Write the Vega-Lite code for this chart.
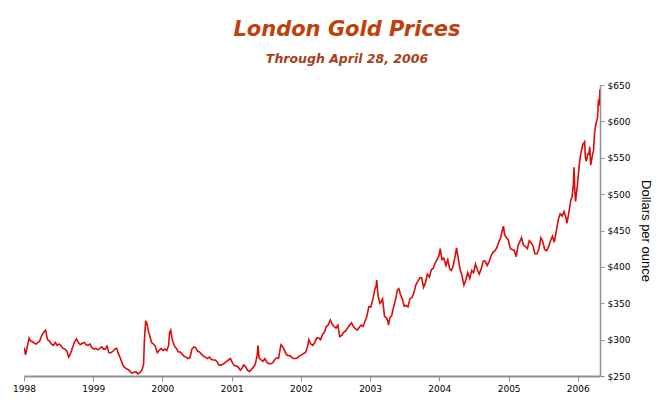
{
  "$schema": "https://vega.github.io/schema/vega-lite/v6.json",
  "autosize": {"type": "none"},
  "width": 576,
  "height": 291,
  "padding": {"left": 24, "top": 85, "right": 72, "bottom": 41},
  "background": "white",
  "title": {
    "text": "London Gold Prices",
    "subtitle": "Through April 28, 2006",
    "anchor": "middle",
    "dx": 35,
    "offset": 16,
    "font": "DejaVu Sans",
    "fontSize": 21,
    "fontWeight": "bold",
    "fontStyle": "italic",
    "color": "#c0400c",
    "subtitleFont": "DejaVu Sans",
    "subtitleFontSize": 12.5,
    "subtitleFontWeight": "bold",
    "subtitleFontStyle": "italic",
    "subtitleColor": "#a8401a",
    "subtitlePadding": 13
  },
  "config": {"view": {"stroke": null}},
  "data": {
    "values": [
      {"date": "1998-01-02", "price": 289}, {"date": "1998-01-09", "price": 279}, {"date": "1998-01-20", "price": 292}, {"date": "1998-01-28", "price": 302},
      {"date": "1998-02-05", "price": 298}, {"date": "1998-02-15", "price": 297}, {"date": "1998-02-25", "price": 295},
      {"date": "1998-03-05", "price": 294}, {"date": "1998-03-15", "price": 296}, {"date": "1998-03-25", "price": 298},
      {"date": "1998-04-05", "price": 306}, {"date": "1998-04-15", "price": 310}, {"date": "1998-04-25", "price": 313},
      {"date": "1998-05-05", "price": 300}, {"date": "1998-05-15", "price": 298}, {"date": "1998-05-25", "price": 294},
      {"date": "1998-06-05", "price": 292}, {"date": "1998-06-15", "price": 296}, {"date": "1998-06-25", "price": 292},
      {"date": "1998-07-05", "price": 294}, {"date": "1998-07-15", "price": 292}, {"date": "1998-07-25", "price": 288},
      {"date": "1998-08-05", "price": 287}, {"date": "1998-08-15", "price": 284}, {"date": "1998-08-25", "price": 276},
      {"date": "1998-09-05", "price": 282}, {"date": "1998-09-15", "price": 290}, {"date": "1998-09-25", "price": 297},
      {"date": "1998-10-05", "price": 301}, {"date": "1998-10-15", "price": 296}, {"date": "1998-10-25", "price": 293},
      {"date": "1998-11-05", "price": 295}, {"date": "1998-11-15", "price": 296}, {"date": "1998-11-25", "price": 293},
      {"date": "1998-12-05", "price": 292}, {"date": "1998-12-15", "price": 294}, {"date": "1998-12-25", "price": 289},
      {"date": "1999-01-05", "price": 287}, {"date": "1999-01-15", "price": 288}, {"date": "1999-01-25", "price": 286},
      {"date": "1999-02-05", "price": 288}, {"date": "1999-02-15", "price": 290}, {"date": "1999-02-25", "price": 287},
      {"date": "1999-03-05", "price": 287}, {"date": "1999-03-15", "price": 291}, {"date": "1999-03-25", "price": 282},
      {"date": "1999-04-05", "price": 282}, {"date": "1999-04-15", "price": 284}, {"date": "1999-04-25", "price": 287},
      {"date": "1999-05-05", "price": 288}, {"date": "1999-05-15", "price": 280}, {"date": "1999-05-25", "price": 274},
      {"date": "1999-06-05", "price": 266}, {"date": "1999-06-15", "price": 262}, {"date": "1999-06-25", "price": 260},
      {"date": "1999-07-05", "price": 259}, {"date": "1999-07-15", "price": 256}, {"date": "1999-07-25", "price": 254},
      {"date": "1999-08-05", "price": 255}, {"date": "1999-08-15", "price": 256}, {"date": "1999-08-25", "price": 253},
      {"date": "1999-09-05", "price": 255}, {"date": "1999-09-15", "price": 258}, {"date": "1999-09-24", "price": 266}, {"date": "1999-09-28", "price": 298},
      {"date": "1999-10-05", "price": 326}, {"date": "1999-10-12", "price": 322}, {"date": "1999-10-20", "price": 311}, {"date": "1999-10-28", "price": 304},
      {"date": "1999-11-05", "price": 296}, {"date": "1999-11-15", "price": 294}, {"date": "1999-11-25", "price": 291},
      {"date": "1999-12-05", "price": 282}, {"date": "1999-12-15", "price": 285}, {"date": "1999-12-25", "price": 288},
      {"date": "2000-01-05", "price": 285}, {"date": "2000-01-15", "price": 287}, {"date": "2000-01-25", "price": 285},
      {"date": "2000-02-03", "price": 292}, {"date": "2000-02-08", "price": 310}, {"date": "2000-02-14", "price": 313}, {"date": "2000-02-22", "price": 300},
      {"date": "2000-03-05", "price": 291}, {"date": "2000-03-15", "price": 288}, {"date": "2000-03-25", "price": 283},
      {"date": "2000-04-05", "price": 283}, {"date": "2000-04-15", "price": 280}, {"date": "2000-04-25", "price": 277},
      {"date": "2000-05-05", "price": 276}, {"date": "2000-05-15", "price": 274}, {"date": "2000-05-25", "price": 275},
      {"date": "2000-06-05", "price": 287}, {"date": "2000-06-15", "price": 290}, {"date": "2000-06-25", "price": 289},
      {"date": "2000-07-05", "price": 284}, {"date": "2000-07-15", "price": 283}, {"date": "2000-07-25", "price": 280},
      {"date": "2000-08-05", "price": 277}, {"date": "2000-08-15", "price": 276}, {"date": "2000-08-25", "price": 274},
      {"date": "2000-09-05", "price": 276}, {"date": "2000-09-15", "price": 273}, {"date": "2000-09-25", "price": 272},
      {"date": "2000-10-05", "price": 272}, {"date": "2000-10-15", "price": 270}, {"date": "2000-10-25", "price": 265},
      {"date": "2000-11-05", "price": 265}, {"date": "2000-11-15", "price": 266}, {"date": "2000-11-25", "price": 268},
      {"date": "2000-12-05", "price": 270}, {"date": "2000-12-15", "price": 272}, {"date": "2000-12-25", "price": 274},
      {"date": "2001-01-05", "price": 268}, {"date": "2001-01-15", "price": 264}, {"date": "2001-01-25", "price": 264},
      {"date": "2001-02-05", "price": 262}, {"date": "2001-02-15", "price": 258}, {"date": "2001-02-25", "price": 261},
      {"date": "2001-03-05", "price": 265}, {"date": "2001-03-15", "price": 263}, {"date": "2001-03-25", "price": 258},
      {"date": "2001-04-05", "price": 256}, {"date": "2001-04-15", "price": 259}, {"date": "2001-04-25", "price": 262},
      {"date": "2001-05-05", "price": 266}, {"date": "2001-05-15", "price": 278}, {"date": "2001-05-20", "price": 292}, {"date": "2001-05-25", "price": 275},
      {"date": "2001-06-05", "price": 272}, {"date": "2001-06-15", "price": 270}, {"date": "2001-06-25", "price": 274},
      {"date": "2001-07-05", "price": 269}, {"date": "2001-07-15", "price": 267}, {"date": "2001-07-25", "price": 267},
      {"date": "2001-08-05", "price": 268}, {"date": "2001-08-15", "price": 272}, {"date": "2001-08-25", "price": 275},
      {"date": "2001-09-05", "price": 274}, {"date": "2001-09-12", "price": 285}, {"date": "2001-09-18", "price": 293}, {"date": "2001-09-25", "price": 291},
      {"date": "2001-10-05", "price": 286}, {"date": "2001-10-15", "price": 280}, {"date": "2001-10-25", "price": 278},
      {"date": "2001-11-05", "price": 278}, {"date": "2001-11-15", "price": 275}, {"date": "2001-11-25", "price": 274},
      {"date": "2001-12-05", "price": 274}, {"date": "2001-12-15", "price": 275}, {"date": "2001-12-25", "price": 278},
      {"date": "2002-01-05", "price": 279}, {"date": "2002-01-15", "price": 281}, {"date": "2002-01-25", "price": 282},
      {"date": "2002-02-05", "price": 290}, {"date": "2002-02-12", "price": 300}, {"date": "2002-02-22", "price": 294},
      {"date": "2002-03-05", "price": 292}, {"date": "2002-03-15", "price": 296}, {"date": "2002-03-25", "price": 302},
      {"date": "2002-04-05", "price": 302}, {"date": "2002-04-15", "price": 300}, {"date": "2002-04-25", "price": 307},
      {"date": "2002-05-05", "price": 310}, {"date": "2002-05-15", "price": 318}, {"date": "2002-05-25", "price": 320},
      {"date": "2002-06-05", "price": 327}, {"date": "2002-06-15", "price": 321}, {"date": "2002-06-25", "price": 318},
      {"date": "2002-07-05", "price": 316}, {"date": "2002-07-15", "price": 320}, {"date": "2002-07-25", "price": 304},
      {"date": "2002-08-05", "price": 306}, {"date": "2002-08-15", "price": 310}, {"date": "2002-08-25", "price": 312},
      {"date": "2002-09-05", "price": 316}, {"date": "2002-09-15", "price": 320}, {"date": "2002-09-25", "price": 323},
      {"date": "2002-10-05", "price": 318}, {"date": "2002-10-15", "price": 315}, {"date": "2002-10-25", "price": 313},
      {"date": "2002-11-05", "price": 317}, {"date": "2002-11-15", "price": 320}, {"date": "2002-11-25", "price": 318},
      {"date": "2002-12-05", "price": 325}, {"date": "2002-12-15", "price": 332}, {"date": "2002-12-25", "price": 345},
      {"date": "2003-01-05", "price": 345}, {"date": "2003-01-15", "price": 355}, {"date": "2003-01-25", "price": 368},
      {"date": "2003-02-03", "price": 375}, {"date": "2003-02-05", "price": 382}, {"date": "2003-02-12", "price": 360}, {"date": "2003-02-22", "price": 350},
      {"date": "2003-03-01", "price": 352}, {"date": "2003-03-08", "price": 356}, {"date": "2003-03-18", "price": 332}, {"date": "2003-03-28", "price": 330},
      {"date": "2003-04-05", "price": 325}, {"date": "2003-04-08", "price": 320}, {"date": "2003-04-15", "price": 330}, {"date": "2003-04-25", "price": 333},
      {"date": "2003-05-05", "price": 345}, {"date": "2003-05-15", "price": 355}, {"date": "2003-05-25", "price": 368},
      {"date": "2003-06-02", "price": 370}, {"date": "2003-06-10", "price": 362}, {"date": "2003-06-20", "price": 356}, {"date": "2003-06-30", "price": 346},
      {"date": "2003-07-10", "price": 347}, {"date": "2003-07-20", "price": 345}, {"date": "2003-07-30", "price": 356},
      {"date": "2003-08-10", "price": 358}, {"date": "2003-08-20", "price": 364}, {"date": "2003-08-30", "price": 375},
      {"date": "2003-09-10", "price": 380}, {"date": "2003-09-20", "price": 385}, {"date": "2003-09-30", "price": 385},
      {"date": "2003-10-10", "price": 372}, {"date": "2003-10-20", "price": 378}, {"date": "2003-10-30", "price": 390},
      {"date": "2003-11-10", "price": 386}, {"date": "2003-11-20", "price": 396}, {"date": "2003-11-30", "price": 398},
      {"date": "2003-12-10", "price": 405}, {"date": "2003-12-20", "price": 410}, {"date": "2003-12-30", "price": 415},
      {"date": "2004-01-06", "price": 425}, {"date": "2004-01-15", "price": 410}, {"date": "2004-01-25", "price": 412},
      {"date": "2004-02-05", "price": 402}, {"date": "2004-02-15", "price": 410}, {"date": "2004-02-25", "price": 397},
      {"date": "2004-03-05", "price": 395}, {"date": "2004-03-15", "price": 402}, {"date": "2004-03-25", "price": 415},
      {"date": "2004-04-01", "price": 426}, {"date": "2004-04-10", "price": 412}, {"date": "2004-04-20", "price": 396}, {"date": "2004-04-30", "price": 388},
      {"date": "2004-05-10", "price": 375}, {"date": "2004-05-20", "price": 382}, {"date": "2004-05-30", "price": 392},
      {"date": "2004-06-10", "price": 384}, {"date": "2004-06-20", "price": 395}, {"date": "2004-06-30", "price": 392},
      {"date": "2004-07-10", "price": 404}, {"date": "2004-07-20", "price": 396}, {"date": "2004-07-30", "price": 390},
      {"date": "2004-08-10", "price": 398}, {"date": "2004-08-20", "price": 408}, {"date": "2004-08-30", "price": 408},
      {"date": "2004-09-10", "price": 402}, {"date": "2004-09-20", "price": 407}, {"date": "2004-09-30", "price": 415},
      {"date": "2004-10-10", "price": 420}, {"date": "2004-10-20", "price": 422}, {"date": "2004-10-30", "price": 426},
      {"date": "2004-11-10", "price": 434}, {"date": "2004-11-20", "price": 440}, {"date": "2004-11-30", "price": 452},
      {"date": "2004-12-05", "price": 456}, {"date": "2004-12-10", "price": 445}, {"date": "2004-12-20", "price": 440}, {"date": "2004-12-30", "price": 437},
      {"date": "2005-01-10", "price": 425}, {"date": "2005-01-20", "price": 424}, {"date": "2005-01-30", "price": 423},
      {"date": "2005-02-10", "price": 414}, {"date": "2005-02-20", "price": 430}, {"date": "2005-02-28", "price": 434},
      {"date": "2005-03-10", "price": 440}, {"date": "2005-03-20", "price": 430}, {"date": "2005-03-30", "price": 428},
      {"date": "2005-04-10", "price": 425}, {"date": "2005-04-20", "price": 436}, {"date": "2005-04-30", "price": 433},
      {"date": "2005-05-10", "price": 428}, {"date": "2005-05-20", "price": 418}, {"date": "2005-05-30", "price": 418},
      {"date": "2005-06-10", "price": 425}, {"date": "2005-06-20", "price": 440}, {"date": "2005-06-30", "price": 435},
      {"date": "2005-07-10", "price": 424}, {"date": "2005-07-20", "price": 422}, {"date": "2005-07-30", "price": 427},
      {"date": "2005-08-10", "price": 436}, {"date": "2005-08-20", "price": 442}, {"date": "2005-08-30", "price": 434},
      {"date": "2005-09-10", "price": 450}, {"date": "2005-09-20", "price": 465}, {"date": "2005-09-30", "price": 473},
      {"date": "2005-10-10", "price": 470}, {"date": "2005-10-20", "price": 476}, {"date": "2005-10-30", "price": 468},
      {"date": "2005-11-05", "price": 460}, {"date": "2005-11-15", "price": 475}, {"date": "2005-11-25", "price": 492},
      {"date": "2005-12-01", "price": 495}, {"date": "2005-12-08", "price": 512}, {"date": "2005-12-12", "price": 537}, {"date": "2005-12-16", "price": 505}, {"date": "2005-12-20", "price": 490}, {"date": "2005-12-30", "price": 513},
      {"date": "2006-01-05", "price": 530}, {"date": "2006-01-12", "price": 548}, {"date": "2006-01-20", "price": 560}, {"date": "2006-01-27", "price": 568},
      {"date": "2006-02-01", "price": 570}, {"date": "2006-02-06", "price": 572}, {"date": "2006-02-10", "price": 550}, {"date": "2006-02-15", "price": 545}, {"date": "2006-02-22", "price": 555}, {"date": "2006-02-28", "price": 555},
      {"date": "2006-03-05", "price": 565}, {"date": "2006-03-10", "price": 540}, {"date": "2006-03-15", "price": 547}, {"date": "2006-03-20", "price": 555}, {"date": "2006-03-25", "price": 560}, {"date": "2006-03-30", "price": 583},
      {"date": "2006-04-05", "price": 595}, {"date": "2006-04-10", "price": 600}, {"date": "2006-04-15", "price": 605}, {"date": "2006-04-20", "price": 630}, {"date": "2006-04-24", "price": 622}, {"date": "2006-04-28", "price": 644}
    ]
  },
  "mark": {"type": "line", "color": "#dd0a0a", "strokeWidth": 1.6, "clip": true},
  "encoding": {
    "x": {
      "field": "date",
      "type": "temporal",
      "scale": {"domain": ["1998-01-01", "2006-04-28"]},
      "axis": {
        "title": null,
        "format": "%Y",
        "tickCount": {"interval": "year", "step": 1},
        "grid": false,
        "domainColor": "#909090",
        "domainWidth": 2,
        "tickColor": "#909090",
        "tickSize": 5,
        "labelFlush": false,
        "labelAlign": "center",
        "labelFont": "DejaVu Sans",
        "labelFontSize": 9,
        "labelColor": "#000000",
        "labelPadding": 3
      }
    },
    "y": {
      "field": "price",
      "type": "quantitative",
      "scale": {"domain": [250, 650], "nice": false, "zero": false},
      "axis": {
        "orient": "right",
        "title": "Dollars per ounce",
        "titleFont": "Liberation Sans",
        "titleFontSize": 13,
        "titleFontWeight": "normal",
        "titleColor": "#000000",
        "titlePadding": 9,
        "values": [250, 300, 350, 400, 450, 500, 550, 600, 650],
        "format": "$d",
        "grid": false,
        "domainColor": "#909090",
        "domainWidth": 1.5,
        "tickColor": "#909090",
        "tickSize": 4,
        "labelFont": "DejaVu Sans",
        "labelFontSize": 9,
        "labelColor": "#000000",
        "labelPadding": 3
      }
    }
  }
}
